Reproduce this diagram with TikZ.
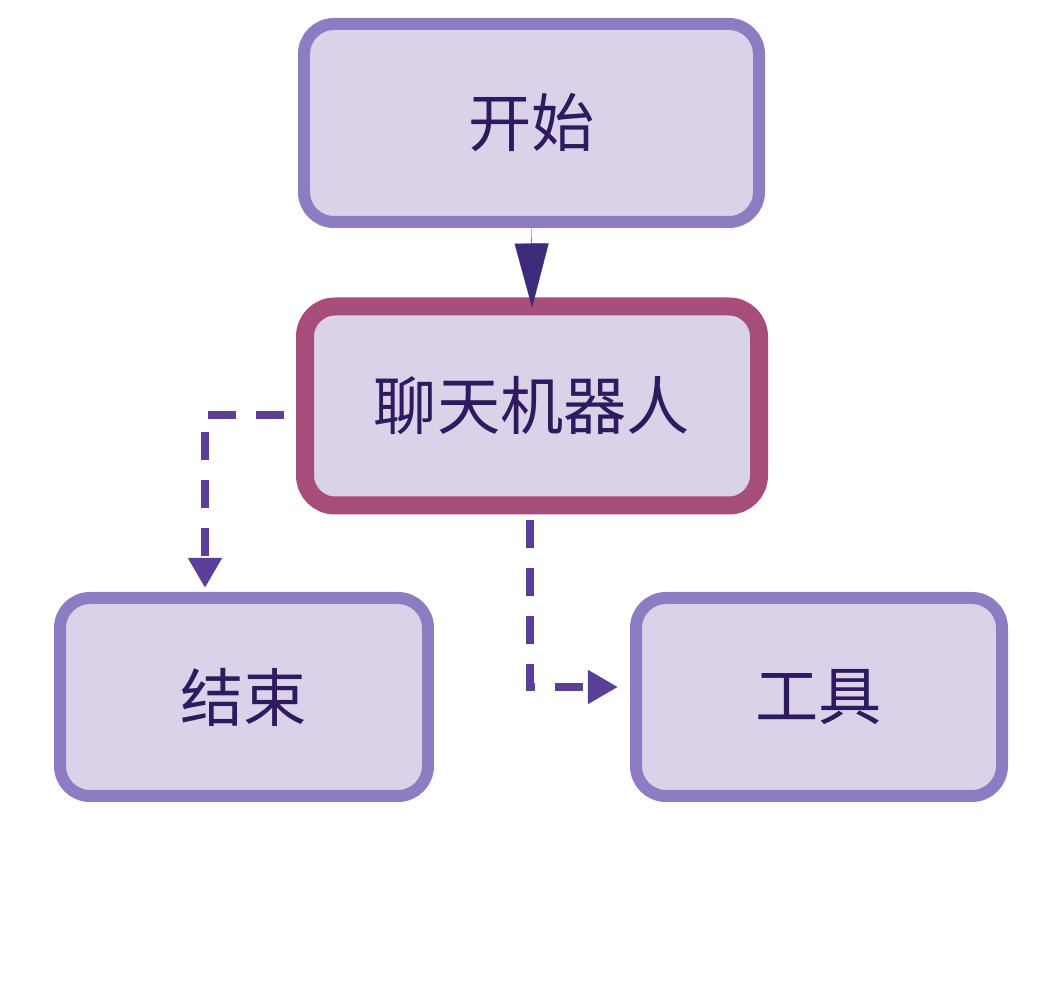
\documentclass[tikz,border=0pt]{standalone}
\usepackage{fontspec}
\newfontfamily\cjk{Noto Sans CJK SC}
\usetikzlibrary{arrows.meta}
\definecolor{boxfill}{HTML}{D9D2E9}
\definecolor{boxline}{HTML}{8E7CC3}
\definecolor{hotline}{HTML}{A64D79}
\definecolor{textcol}{HTML}{2E1A5E}
\definecolor{dashcol}{HTML}{5B3E99}
\definecolor{tipcol}{HTML}{3D2A7A}
\begin{document}
\begin{tikzpicture}[
    box/.style={draw=boxline, line width=1.2mm, fill=boxfill, rounded corners=3mm,
      minimum width=4.55cm, minimum height=1.98cm, font=\cjk\fontsize{18}{20}\selectfont,
      text=textcol},
    hot/.style={box, draw=hotline, line width=1.8mm, minimum width=4.54cm, minimum height=1.99cm},
    dashy/.style={draw=dashcol, line width=0.8mm, dash pattern=on 2.8mm off 2mm,
      -{Triangle[length=3mm,width=3.2mm]}}
  ]
  \useasboundingbox (0,0) rectangle (10.64,9.92);

  \node[box] (start) at (5.315,8.69) {开始};
  \node[hot] (bot) at (5.32,5.86) {聊天机器人};
  \node[box, minimum width=3.68cm] (end) at (2.44,2.95) {结束};
  \node[box, minimum width=3.66cm] (tool) at (8.19,2.95) {工具};

  \coordinate (botL) at (2.84,5.77);
  \coordinate (botB) at (5.30,4.72);
  \coordinate (endT) at (2.05,4.04);
  \coordinate (toolL) at (6.18,3.05);

  \draw[tipcol, line width=0.1pt, -{Triangle[length=6.4mm,width=3.4mm]}, shorten >=-1mm]
    (start.south) -- (bot.north);
  \draw[dashy] (botL) -| (endT);
  \draw[dashy] (botB) |- (toolL);
\end{tikzpicture}
\end{document}
